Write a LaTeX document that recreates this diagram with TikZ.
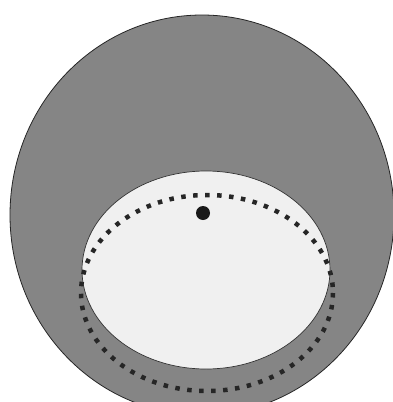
\documentclass[tikz,border=0pt]{standalone}
\begin{document}
\begin{tikzpicture}[x=1pt,y=-1pt,
  outerbody/.style={fill=black!48, draw=black!85, line width=0.8pt},
  innerbody/.style={fill=black!6, draw=black!80, line width=0.7pt},
  dotring/.style={draw=black!85, line width=4.5pt, dash pattern=on 4.5pt off 7.5pt},
  spot/.style={fill=black!90}]
  \useasboundingbox (0,0) rectangle (393,402);
  \clip (0,0) rectangle (393,402);
  \fill[white] (0,0) rectangle (393,402);
  % outer grey disc
  \path[outerbody] (202,215) ellipse [x radius=192, y radius=200];
  % dotted ring
  \path[dotring] (207,293) ellipse [x radius=126, y radius=98];
  % inner light ellipse
  \path[innerbody] (206,270) ellipse [x radius=124, y radius=99];
  % redraw upper part of dotted ring over the light ellipse
  \begin{scope}
    \clip (206,270) ellipse [x radius=124, y radius=99];
    \path[dotring] (207,293) ellipse [x radius=126, y radius=98];
  \end{scope}
  % black spot
  \path[spot] (203,213) circle [radius=7];
\end{tikzpicture}
\end{document}
